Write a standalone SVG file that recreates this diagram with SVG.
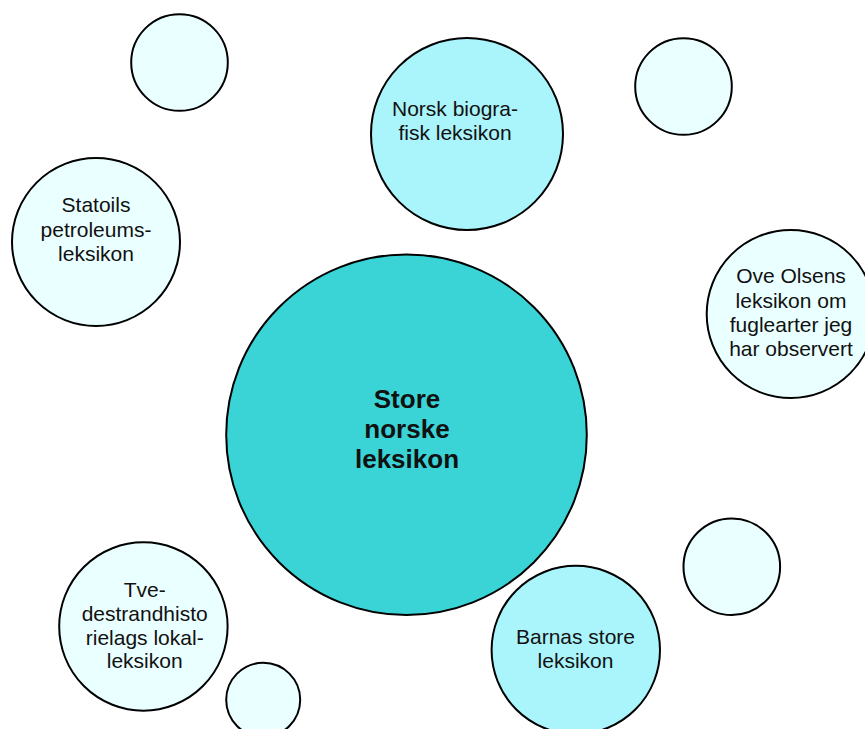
<svg xmlns="http://www.w3.org/2000/svg" width="865" height="729" viewBox="0 0 865 729">
<style>
.c{stroke:#000;stroke-width:2}
.pale{fill:#EAFFFF}
.mid{fill:#AAF4FC}
.big{fill:#3AD4D6}
text{font-family:"Liberation Sans",Arial,sans-serif;font-size:21px;fill:#111;text-anchor:middle}
.b{font-weight:bold;font-size:26px}
</style>
<rect width="865" height="729" fill="#fff"/>
<g id="connectors"/>
<g id="small-top-left"><circle class="c pale" cx="179.5" cy="62.5" r="48.3"/></g>
<g id="small-top-right"><circle class="c pale" cx="683.5" cy="86.5" r="48.3"/></g>
<g id="norsk-biografisk"><circle class="c mid" cx="467" cy="134" r="96"/>
<text x="455" y="115.5">Norsk biogra-</text><text x="455" y="140">fisk leksikon</text></g>
<g id="statoils"><circle class="c pale" cx="96" cy="242" r="84"/>
<text x="96" y="212.3">Statoils</text><text x="96" y="236.5">petroleums-</text><text x="96" y="260.7">leksikon</text></g>
<g id="ove-olsens"><circle class="c pale" cx="790.7" cy="314" r="84"/>
<text x="791" y="283.3">Ove Olsens</text><text x="791" y="307.7">leksikon om</text><text x="791" y="331.8">fuglearter jeg</text><text x="791" y="356">har observert</text></g>
<g id="store-norske"><circle class="c big" cx="406.5" cy="434.7" r="180.3"/>
<text class="b" x="407" y="408.3">Store</text><text class="b" x="407" y="438.3">norske</text><text class="b" x="407" y="468.3">leksikon</text></g>
<g id="small-right"><circle class="c pale" cx="731.8" cy="566.7" r="48.3"/></g>
<g id="barnas"><circle class="c mid" cx="575.8" cy="650" r="84.2"/>
<text x="575.5" y="643.5">Barnas store</text><text x="575.5" y="667.8">leksikon</text></g>
<g id="tvedestrand"><circle class="c pale" cx="143.4" cy="626.5" r="84.2"/>
<text x="144.7" y="596.7">Tve-</text><text x="144.7" y="620.8">destrandhisto</text><text x="144.7" y="644.5">rielags lokal-</text><text x="144.7" y="668.3">leksikon</text></g>
<g id="small-bottom"><circle class="c pale" cx="263.2" cy="699.8" r="37"/></g>
</svg>
